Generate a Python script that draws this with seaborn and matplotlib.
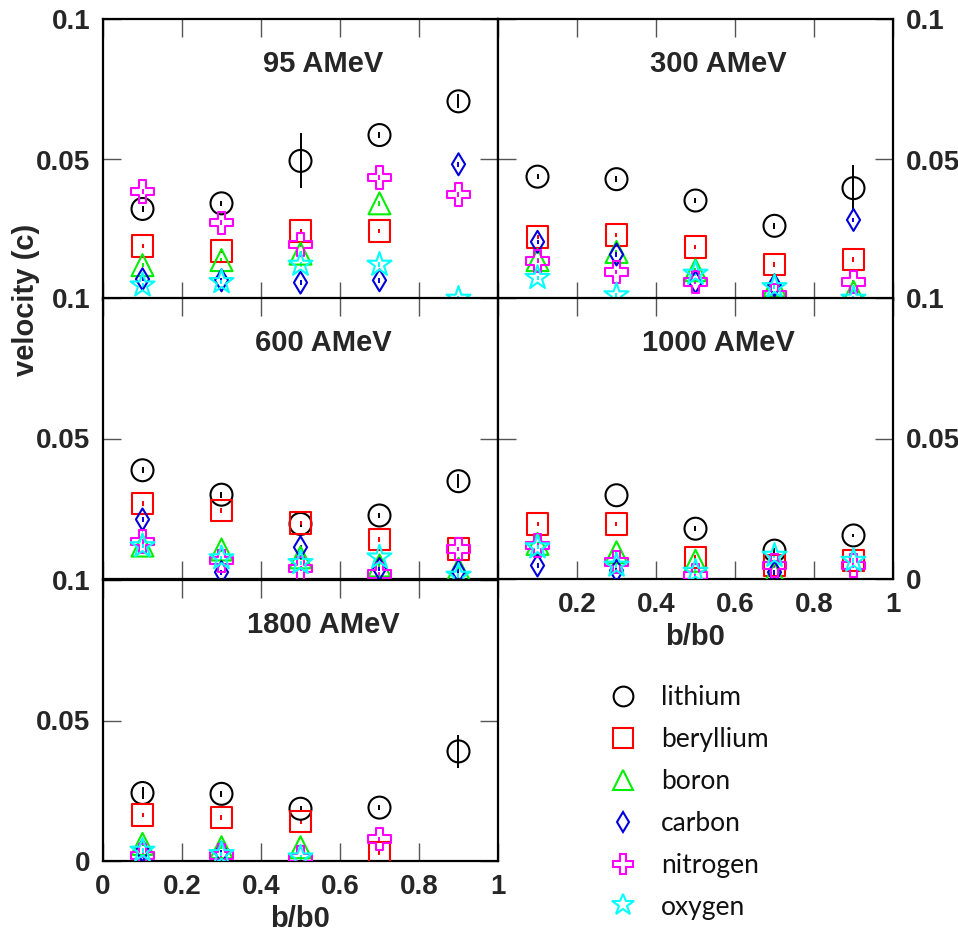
import numpy as np
import pandas as pd
import matplotlib
matplotlib.use("Agg")
import matplotlib.pyplot as plt
from matplotlib.lines import Line2D
import seaborn as sns

nan = np.nan

# panels (beam energy) and impact parameter bins
energies = ["95 AMeV", "300 AMeV", "600 AMeV", "1000 AMeV", "1800 AMeV"]
b_b0 = [0.1, 0.3, 0.5, 0.7, 0.9]

# velocity (c), one row per energy panel
lithium = [
    [0.0324, 0.0344, 0.0495, 0.0587, 0.0707],
    [0.0439, 0.0430, 0.0354, 0.0264, 0.0398],
    [0.0387, 0.0300, 0.0196, 0.0226, 0.0348],
    [nan, 0.0298, 0.0179, 0.0101, 0.0155],
    [0.0242, 0.0239, 0.0186, 0.0190, 0.0390],
]
lithium_err = [
    [0.0010, 0.0010, 0.0098, 0.0010, 0.0025],
    [0.0010, 0.0010, 0.0010, 0.0010, 0.0083],
    [0.0010, 0.0010, 0.0010, 0.0010, 0.0025],
    [nan, 0.0000, 0.0008, 0.0008, 0.0004],
    [0.0022, 0.0010, 0.0010, 0.0008, 0.0058],
]
beryllium = [
    [0.0193, 0.0174, 0.0245, 0.0245, nan],
    [0.0225, 0.0231, 0.0189, 0.0126, 0.0144],
    [0.0268, 0.0244, 0.0200, 0.0140, 0.0107],
    [0.0196, 0.0196, 0.0077, 0.0048, 0.0065],
    [0.0164, 0.0155, 0.0140, 0.0031, nan],
]
boron = [
    [0.0124, 0.0142, 0.0165, 0.0344, nan],
    [0.0142, 0.0171, 0.0106, 0.0052, 0.0029],
    [0.0119, 0.0105, 0.0077, 0.0048, 0.0036],
    [0.0125, 0.0095, 0.0065, 0.0018, nan],
    [0.0061, 0.0049, 0.0049, nan, nan],
]
carbon = [
    [0.0074, 0.0070, 0.0062, 0.0070, 0.0483],
    [0.0207, 0.0162, 0.0064, 0.0052, 0.0285],
    [0.0212, 0.0024, 0.0113, 0.0036, 0.0026],
    [0.0048, 0.0030, nan, 0.0024, nan],
    [0.0037, 0.0030, nan, nan, nan],
]
nitrogen = [
    [0.0386, 0.0275, 0.0198, 0.0436, 0.0376],
    [0.0138, 0.0100, 0.0064, 0.0017, 0.0064],
    [0.0133, 0.0065, 0.0038, 0.0018, 0.0107],
    [0.0119, 0.0060, 0.0012, 0.0048, 0.0048],
    [0.0019, 0.0019, 0.0013, 0.0079, nan],
]
oxygen = [
    [0.0052, 0.0064, 0.0126, 0.0126, 0.0005],
    [0.0079, 0.0017, 0.0094, 0.0046, 0.0005],
    [0.0117, 0.0074, 0.0057, 0.0077, 0.0012],
    [0.0113, 0.0048, 0.0026, 0.0083, 0.0065],
    [0.0037, 0.0025, 0.0013, nan, nan],
]
small_err = 0.0008

elements = ["lithium", "beryllium", "boron", "carbon", "nitrogen", "oxygen"]
values = [lithium, beryllium, boron, carbon, nitrogen, oxygen]
colors = ["black", "red", "#00ee00", "#0000dd", "#ff00ff", "cyan"]
markers = ["o", "s", "^", "d", "P", "*"]
msizes = [250, 240, 250, 125, 260, 330]

y_ticks = [0, 0.05, 0.1]
y_labels = ["0", "0.05", "0.1"]
x_ticks = [0, 0.2, 0.4, 0.6, 0.8, 1]
x_labels = ["0", "0.2", "0.4", "0.6", "0.8", "1"]

rows = []
for el, vals in zip(elements, values):
    for i, en in enumerate(energies):
        for j, b in enumerate(b_b0):
            err = lithium_err[i][j] if el == "lithium" else small_err
            rows.append({"energy": en, "b": b, "v": vals[i][j],
                         "err": err, "element": el})
df = pd.DataFrame(rows).dropna(subset=["v"])

sns.set_style("white")
plt.rcParams["font.family"] = ["Liberation Sans", "DejaVu Sans"]
plt.rcParams["font.weight"] = "bold"

fig = plt.figure(figsize=(9.58, 9.36), dpi=100)

W, H = 958, 936
left0, left1, pw = 103, 498, 395
tops = [19, 298, 580]
ph = 281

positions = [(left0, tops[0]), (left1, tops[0]),
             (left0, tops[1]), (left1, tops[1]),
             (left0, tops[2])]

axes = []
for k, (en, (px, py)) in enumerate(zip(energies, positions)):
    ax = fig.add_axes([px / W, 1 - (py + ph) / H, pw / W, ph / H])
    sub = df[df["energy"] == en]
    for el, c, m, s in zip(elements, colors, markers, msizes):
        d = sub[sub["element"] == el]
        ax.errorbar(d["b"], d["v"], yerr=d["err"], fmt="none",
                    ecolor=c, elinewidth=1.4, capsize=0, zorder=2)
        sns.scatterplot(data=d, x="b", y="v", marker=m, s=s,
                        facecolors="none", edgecolor=c, linewidth=1.5,
                        ax=ax, legend=False, zorder=3)
    ax.set_xlim(0, 1)
    ax.set_ylim(0, 0.1)
    ax.set_xlabel("")
    ax.set_ylabel("")
    ax.text(0.557, 0.84, en, transform=ax.transAxes, ha="center",
            va="center", fontsize=21, fontweight="bold")
    for sp in ax.spines.values():
        sp.set_linewidth(1.6)
        sp.set_color("black")
    ax.tick_params(direction="in", length=13, width=1, color="#555555",
                   top=True, bottom=True, left=True, right=True,
                   labelsize=20, pad=9)

    ax.set_yticks(y_ticks)
    ylab = list(y_labels)
    if k in (0, 1, 2):
        ylab[0] = ""
    ax.set_yticklabels(ylab)
    if k in (1, 3):
        ax.tick_params(labelleft=False, labelright=True)

    ax.set_xticks(x_ticks)
    if k == 4:
        ax.set_xticklabels(x_labels)
        ax.set_xlabel("b/b0", fontsize=21, fontweight="bold", labelpad=4)
    elif k == 3:
        ax.set_xticklabels([""] + x_labels[1:])
        ax.set_xlabel("b/b0", fontsize=21, fontweight="bold", labelpad=4)
    else:
        ax.set_xticklabels([])
    axes.append(ax)

fig.text(26 / W, 1 - 300 / H, "velocity (c)", rotation=90, ha="center",
         va="center", fontsize=21, fontweight="bold")

handles = [Line2D([], [], ls="none", marker=m, mfc="none", mec=c, mew=1.5,
                  ms=np.sqrt(s) * 0.9)
           for c, m, s in zip(colors, markers, msizes)]
leg = fig.legend(handles, elements, loc="upper left",
                 bbox_to_anchor=(590 / W, 1 - 672 / H), frameon=False,
                 prop={"family": "Lato", "weight": "normal", "size": 19},
                 labelspacing=0.64, handletextpad=0.7,
                 borderpad=0, handlelength=1.5)
for t in leg.get_texts():
    t.set_color("#111111")

fig.savefig("out.png", dpi=100)
